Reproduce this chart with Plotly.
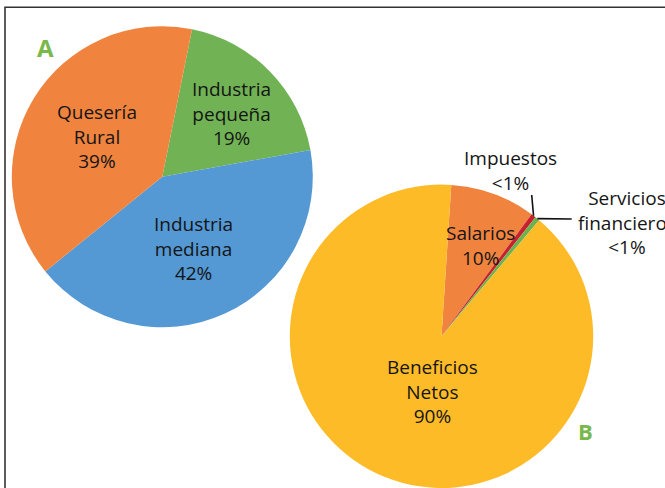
import math
import plotly.graph_objects as go

W, H = 665, 488

# ---- data: pie A ----
a_labels = ["Industria pequeña", "Industria mediana", "Quesería Rural"]
a_values = [19, 42, 39]
a_text = ["Industria<br>pequeña<br>19%", "Industria<br>mediana<br>42%", "Quesería<br>Rural<br>39%"]
a_colors = ["#70B254", "#5498D4", "#F0843F"]

# ---- data: pie B ----
b_labels = ["Salarios", "Impuestos", "Servicios financieros", "Beneficios Netos"]
b_values = [9.1, 0.5, 0.5, 89.9]
b_text = ["Salarios<br>10%", "Impuestos<br>&lt;1%", "Servicios<br>financieros<br>&lt;1%", "Beneficios<br>Netos<br>90%"]
b_colors = ["#F0843F", "#C8202C", "#6DB250", "#FEBB28"]

# ---- layout constants (pixels) ----
A_CX, A_CY, A_R, A_ROT = 162.3, 176.7, 150.5, 11.4
B_CX, B_CY, B_R, B_ROT = 441.5, 336.3, 151.7, 3.7

a_label_pos = [(231.7, 113.0), (193.7, 248.0), (96.7, 136.7)]
b_label_pos = [(480.0, 245.3), (510.0, 170.3), (627.0, 222.0), (432.7, 391.7)]
b_leader_from = {1: (531.7, 195.0), 2: (571.7, 219.0)}

FONT = "Open Sans"
TXT = "#151515"


def px(x):
    return x / W


def py(y):
    return 1 - y / H


def dom(cx, cy, r):
    return dict(x=[px(cx - r), px(cx + r)], y=[max(0, py(cy + r)), min(1, py(cy - r))])


fig = go.Figure()
fig.add_trace(go.Pie(
    labels=a_labels, values=a_values, sort=False, direction="clockwise",
    rotation=A_ROT, marker=dict(colors=a_colors, line=dict(width=0)),
    textinfo="none", hoverinfo="label+percent", domain=dom(A_CX, A_CY, A_R),
))
fig.add_trace(go.Pie(
    labels=b_labels, values=b_values, sort=False, direction="clockwise",
    rotation=B_ROT, marker=dict(colors=b_colors, line=dict(width=0)),
    textinfo="none", hoverinfo="label+percent", domain=dom(B_CX, B_CY, B_R),
))

annotations = []
for t, (x, y) in zip(a_text + b_text, a_label_pos + b_label_pos):
    annotations.append(dict(text=t, x=px(x), y=py(y), xref="paper", yref="paper",
                            showarrow=False, xanchor="center", yanchor="middle",
                            font=dict(family=FONT, size=19, color=TXT)))

annotations.append(dict(text="<b>A</b>", x=px(45), y=py(47), xref="paper", yref="paper",
                        showarrow=False, xanchor="center", yanchor="middle",
                        font=dict(family=FONT, size=24, color="#79B84A")))
annotations.append(dict(text="<b>B</b>", x=px(585), y=py(431), xref="paper", yref="paper",
                        showarrow=False, xanchor="center", yanchor="middle",
                        font=dict(family=FONT, size=22, color="#79B84A")))

shapes = []
# leader lines from slice outer edge (computed from data) to labels
total_b = sum(b_values)
cum = 0.0
for i, v in enumerate(b_values):
    mid = B_ROT + 360.0 * (cum + v / 2) / total_b
    cum += v
    if i in b_leader_from:
        th = math.radians(mid)
        tx = B_CX + B_R * math.sin(th)
        ty = B_CY - B_R * math.cos(th)
        fx, fy = b_leader_from[i]
        shapes.append(dict(type="line", xref="paper", yref="paper",
                           x0=px(fx), y0=py(fy), x1=px(tx), y1=py(ty),
                           line=dict(color="#111111", width=1.6)))

# frame
shapes.append(dict(type="rect", xref="paper", yref="paper",
                   x0=px(5), x1=1.2, y0=-0.2, y1=py(7.3),
                   line=dict(color="#333333", width=1.6), layer="below"))

fig.update_layout(
    width=W, height=H, margin=dict(l=0, r=0, t=0, b=0),
    paper_bgcolor="white", plot_bgcolor="white", showlegend=False,
    annotations=annotations, shapes=shapes,
)

fig.write_html("out.html", config={"displayModeBar": False},
               post_script="document.body.style.margin='0';document.body.style.overflow='hidden';")
